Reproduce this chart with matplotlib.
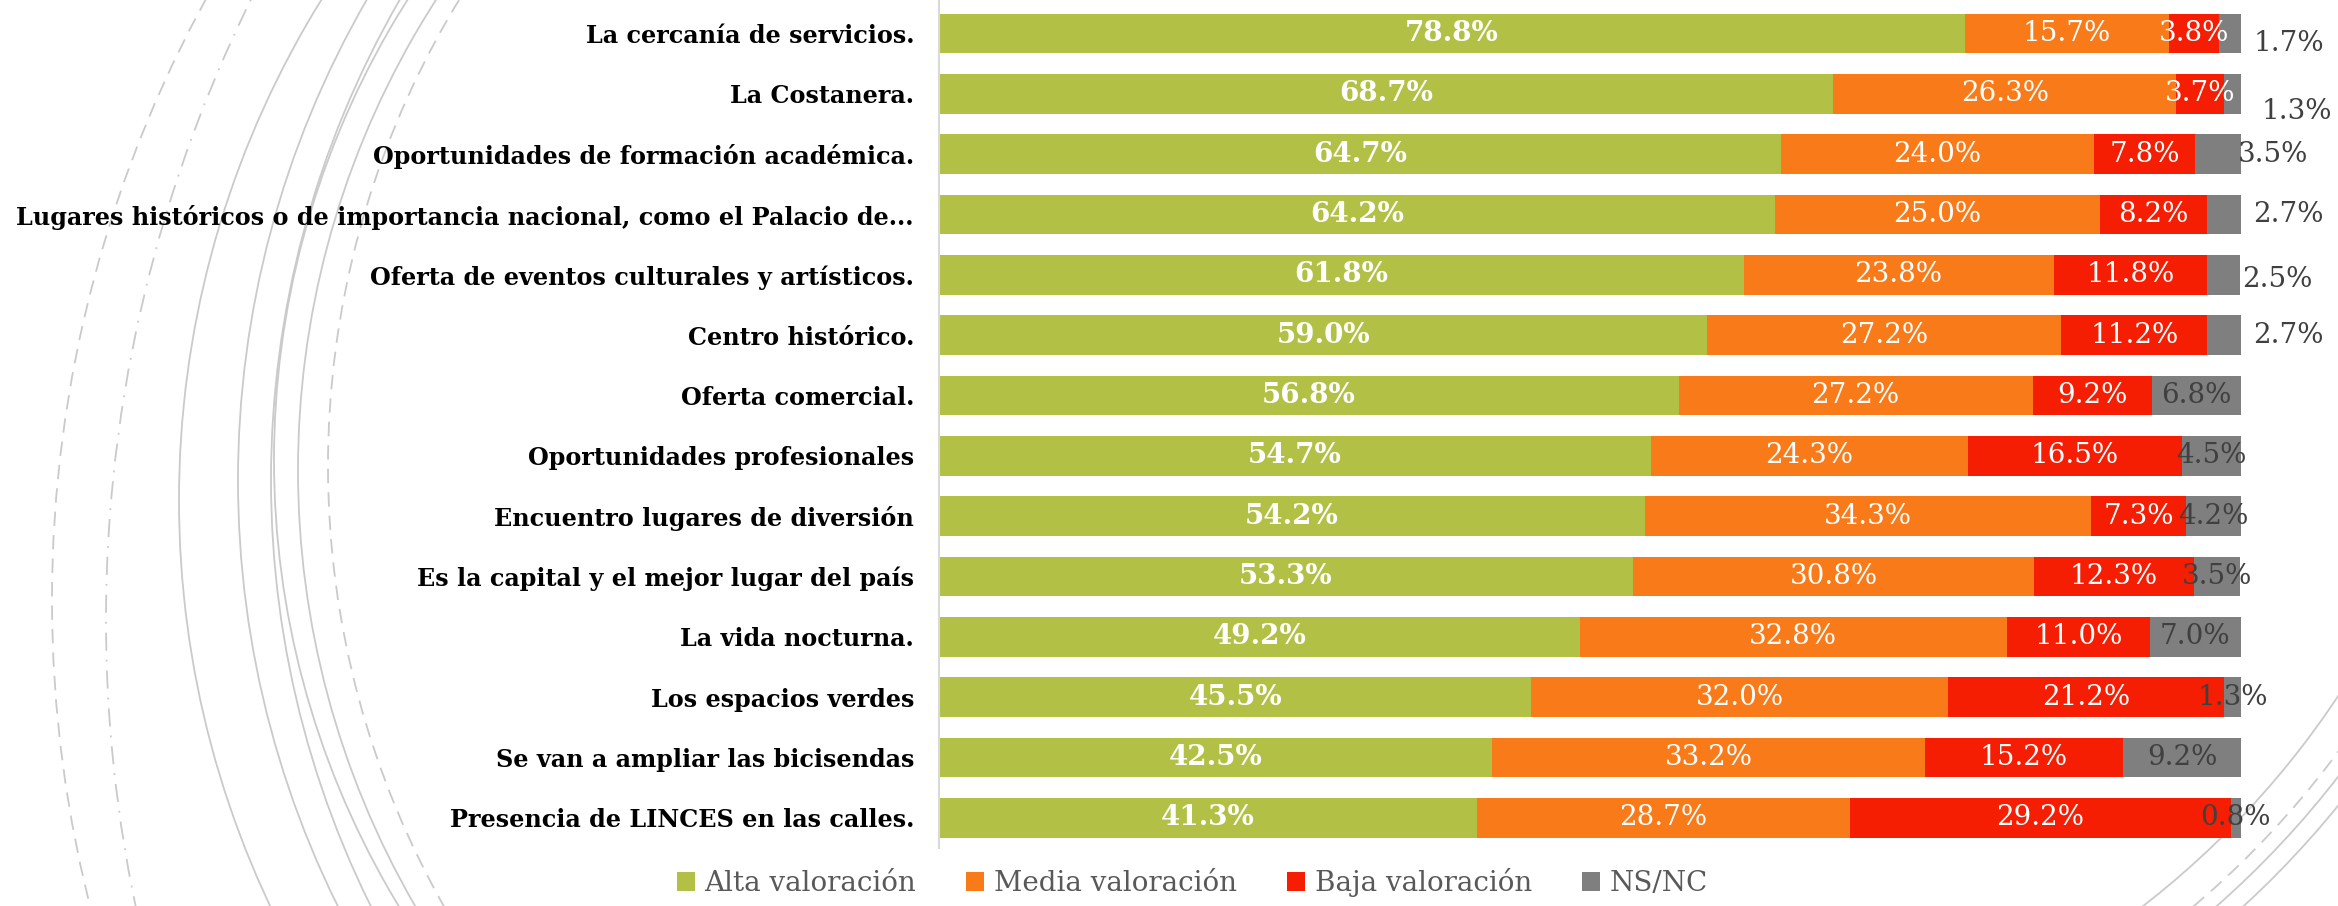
import matplotlib
matplotlib.use("Agg")
import matplotlib.pyplot as plt
from matplotlib.patches import Arc
from matplotlib.transforms import IdentityTransform

# data (top to bottom)
categories = [
    "La cercanía de servicios.",
    "La Costanera.",
    "Oportunidades de formación académica.",
    "Lugares históricos o de importancia nacional, como el Palacio de...",
    "Oferta de eventos culturales y artísticos.",
    "Centro histórico.",
    "Oferta comercial.",
    "Oportunidades profesionales",
    "Encuentro lugares de diversión",
    "Es la capital y el mejor lugar del país",
    "La vida nocturna.",
    "Los espacios verdes",
    "Se van a ampliar las bicisendas",
    "Presencia de LINCES en las calles.",
]
alta = [78.8, 68.7, 64.7, 64.2, 61.8, 59.0, 56.8, 54.7, 54.2, 53.3, 49.2, 45.5, 42.5, 41.3]
media = [15.7, 26.3, 24.0, 25.0, 23.8, 27.2, 27.2, 24.3, 34.3, 30.8, 32.8, 32.0, 33.2, 28.7]
baja = [3.8, 3.7, 7.8, 8.2, 11.8, 11.2, 9.2, 16.5, 7.3, 12.3, 11.0, 21.2, 15.2, 29.2]
nsnc = [1.7, 1.3, 3.5, 2.7, 2.5, 2.7, 6.8, 4.5, 4.2, 3.5, 7.0, 1.3, 9.2, 0.8]

series = ["Alta valoración", "Media valoración", "Baja valoración", "NS/NC"]
colors = ["#b2c145", "#f97a19", "#f51d02", "#7f7f7f"]

# NS/NC labels of the first rows sit outside the bar (offset in points)
ns_outside = [(9, -7), (15, -13), (-2, 0), (9, 0), (1, -3), (9, 0)]

fig = plt.figure(figsize=(23.38, 9.06), dpi=100)

# decorative background arcs from the slide template (pixel coords)
arc_col = "#cacaca"
dash = (0, (8, 5))
dashdot = (0, (10, 5, 1, 5))
# (leftmost x, y of leftmost point from top, radius, style)
left_arcs = [(52, 600, 1250, dash), (106, 620, 1400, dashdot), (179, 500, 950, "-"),
             (238, 480, 960, "-"), (271, 480, 960, "-"), (274, 460, 860, "-"),
             (298, 470, 870, "-"), (328, 466, 894, dash)]
for xm, yc, r, ls in left_arcs:
    fig.add_artist(Arc((xm + r, 906 - yc), 2 * r, 2 * r, theta1=120, theta2=240,
                       transform=IdentityTransform(), color=arc_col, lw=1.3, ls=ls, zorder=-1))
for r, ls in [(886, "-"), (918, dash), (933, "-"), (951, "-")]:
    fig.add_artist(Arc((1600, 700), 2 * r, 2 * r, theta1=-60, theta2=-15,
                       transform=IdentityTransform(), color=arc_col, lw=1.3, ls=ls, zorder=-1))

ax = fig.add_axes([939 / 2338, 58 / 906, 1302 / 2338, 848 / 906])
ax.patch.set_alpha(0)

y = list(range(len(categories)))
lefts = [0] * len(categories)
data = [alta, media, baja, nsnc]
for k, vals in enumerate(data):
    ax.barh(y, vals, left=lefts, height=0.66, color=colors[k], label=series[k], zorder=2)
    for i, v in enumerate(vals):
        cx = lefts[i] + v / 2
        txt = f"{v:.1f}%"
        if k == 0:
            ax.text(cx, i, txt, ha="center", va="center", color="white",
                    fontsize=20, fontweight="bold", family="DejaVu Serif", zorder=3)
        elif k in (1, 2):
            ax.text(cx, i, txt, ha="center", va="center", color="white",
                    fontsize=20, family="DejaVu Serif", zorder=3)
        else:
            if i < len(ns_outside):
                ax.annotate(txt, (100, i), xytext=ns_outside[i], textcoords="offset points",
                            ha="left", va="center", color="#404040", fontsize=20,
                            family="DejaVu Serif", annotation_clip=False, zorder=3)
            else:
                ax.text(cx, i, txt, ha="center", va="center", color="#404040",
                        fontsize=20, family="DejaVu Serif", zorder=3)
    lefts = [a + b for a, b in zip(lefts, vals)]

ax.set_xlim(0, 100)
ax.set_ylim(13.5, -0.556)
ax.set_yticks(y)
ax.set_yticklabels(categories, fontsize=17.2, fontweight="bold", family="DejaVu Serif")
ax.tick_params(axis="y", length=0, pad=18)
ax.set_xticks([])
for s in ["top", "right", "bottom"]:
    ax.spines[s].set_visible(False)
ax.spines["left"].set_color("#d9d9d9")
ax.spines["left"].set_linewidth(1.5)

leg = fig.legend(loc="lower center", bbox_to_anchor=(0.51, -0.018), ncol=4, frameon=False,
                 handlelength=0.65, handleheight=0.65, handletextpad=0.35, columnspacing=1.8,
                 prop={"family": "DejaVu Serif", "size": 20})
for t in leg.get_texts():
    t.set_color("#595959")

fig.savefig("out.png", dpi=100)
